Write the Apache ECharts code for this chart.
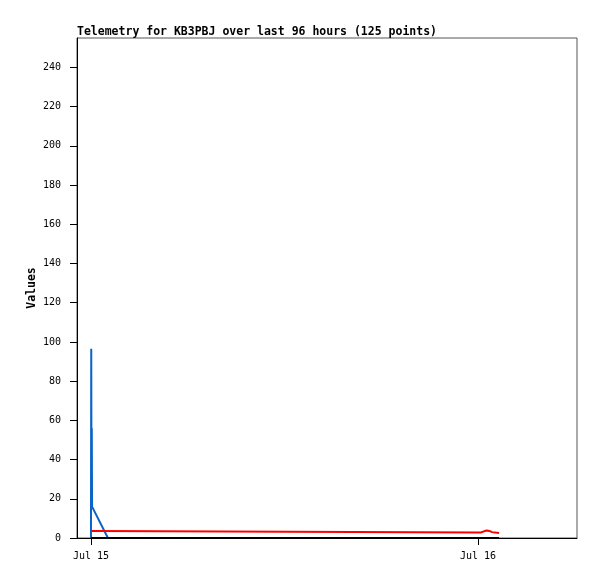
<!DOCTYPE html>
<html>
<head>
<meta charset="utf-8">
<script src="https://cdn.jsdelivr.net/npm/echarts@6/dist/echarts.min.js"></script>
<style>
  html, body { margin: 0; padding: 0; background: #fff; }
  #chart { width: 597px; height: 579px; }
</style>
</head>
<body>
<div id="chart"></div>
<script>
// minutes after Jul 15 00:00
var blueTimes = [0, 1, 2, 3, 4, 63];
var blueValues = [0, 96.5, 15, 56, 16, 0];

var redTimes = [0, 20, 25, 1450, 1462, 1472, 1482, 1492, 1518];
var redValues = [3.6, 3.6, 2.8, 2.8, 3.4, 3.8, 3.6, 3.0, 2.5];

var blackTimes = [0, 1518];
var blackValues = [0, 0];

var xTicks = [0, 1440];
var xTickLabels = ['Jul 15', 'Jul 16'];
var yTicks = [0, 20, 40, 60, 80, 100, 120, 140, 160, 180, 200, 220, 240];

function pairs(t, v) {
  var out = [];
  for (var i = 0; i < t.length; i++) out.push([t[i], v[i]]);
  return out;
}

var chart = echarts.init(document.getElementById('chart'));
var mono = 'DejaVu Sans Mono';

var option = {
  animation: false,
  backgroundColor: '#fff',
  title: {
    text: 'Telemetry for KB3PBJ over last 96 hours (125 points)',
    left: 72,
    top: 21,
    textStyle: { fontFamily: mono, fontSize: 11.5, fontWeight: 'bold', color: '#000' }
  },
  grid: {
    left: 77, top: 38, width: 500, height: 500,
    show: true, borderColor: '#555', borderWidth: 1, backgroundColor: '#fff'
  },
  xAxis: {
    type: 'value',
    min: -52,
    max: 1808,
    axisLine: { onZero: false, lineStyle: { color: '#000', width: 1 } },
    axisTick: { customValues: xTicks, length: 7, lineStyle: { color: '#000' } },
    axisLabel: {
      customValues: xTicks,
      fontFamily: mono, fontSize: 10, color: '#000', margin: 13,
      formatter: function (v) { return xTickLabels[xTicks.indexOf(v)]; }
    },
    splitLine: { show: false }
  },
  yAxis: {
    type: 'value',
    min: 0,
    max: 255,
    name: 'Values',
    nameLocation: 'middle',
    nameGap: 39,
    nameMoveOverlap: false,
    nameTextStyle: { fontFamily: mono, fontSize: 11.5, fontWeight: 'bold', color: '#000' },
    axisLine: { show: true, onZero: false, lineStyle: { color: '#000', width: 1 } },
    axisTick: { show: true, customValues: yTicks, length: 7, lineStyle: { color: '#000' } },
    axisLabel: { customValues: yTicks, fontFamily: mono, fontSize: 10, color: '#000', margin: 16 },
    splitLine: { show: false }
  },
  series: [
    {
      type: 'line', data: pairs(blueTimes, blueValues), showSymbol: false,
      lineStyle: { color: '#0a64c8', width: 2 }, z: 3
    },
    {
      type: 'line', data: pairs(redTimes, redValues), showSymbol: false,
      lineStyle: { color: '#ff0000', width: 2 }, z: 4
    },
    {
      type: 'line', data: pairs(blackTimes, blackValues), showSymbol: false,
      lineStyle: { color: '#000', width: 2 }, z: 5
    }
  ]
};
chart.setOption(option);
</script>
</body>
</html>
